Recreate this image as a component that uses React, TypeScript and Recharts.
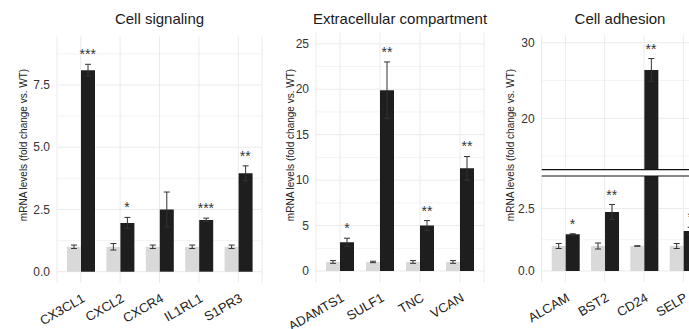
import { ComposedChart, Bar, Line, XAxis, YAxis, CartesianGrid, ErrorBar, LabelList, ReferenceLine } from "recharts";

// Cell signaling
const signalingGenes = ["CX3CL1", "CXCL2", "CXCR4", "IL1RL1", "S1PR3"];
const signalingWt = [1, 1, 1, 1, 1];
const signalingWtErr = [0.07, 0.13, 0.07, 0.07, 0.07];
const signalingKo = [8.09, 1.96, 2.5, 2.08, 3.95];
const signalingKoErr = [0.24, 0.22, 0.7, 0.07, 0.3];
const signalingSig = ["***", "*", "", "***", "**"];

// Extracellular compartment
const ecmGenes = ["ADAMTS1", "SULF1", "TNC", "VCAN"];
const ecmWt = [1, 1, 1, 1];
const ecmWtErr = [0.15, 0.08, 0.15, 0.15];
const ecmKo = [3.16, 19.9, 5.0, 11.3];
const ecmKoErr = [0.45, 3.1, 0.55, 1.3];
const ecmSig = ["*", "**", "**", "**"];

// Cell adhesion
const adhesionGenes = ["ALCAM", "BST2", "CD24", "SELP"];
const adhesionWt = [1, 1, 1, 1];
const adhesionWtErr = [0.1, 0.12, 0.01, 0.1];
const adhesionKo = [1.47, 2.36, 26.4, 1.6];
const adhesionKoErr = [0.02, 0.3, 1.5, 0.15];
const adhesionSig = ["*", "**", "**", "*"];

const H = 329;
const LIGHT = "#d9d9d9";
const DARK = "#1e1e1e";
const GRID = "#ebebeb";
const YW = 40;

type Row = { gene: string; wt: number; wtErr: number; ko: number; koErr: number; top: number; sig: string };

function buildRows(genes: string[], wt: number[], wtErr: number[], ko: number[], koErr: number[], sig: string[]): Row[] {
  return genes.map((g, i) => ({
    gene: g,
    wt: wt[i],
    wtErr: wtErr[i],
    ko: ko[i],
    koErr: koErr[i],
    top: ko[i] + koErr[i],
    sig: sig[i],
  }));
}

const signalingRows = buildRows(signalingGenes, signalingWt, signalingWtErr, signalingKo, signalingKoErr, signalingSig);
const ecmRows = buildRows(ecmGenes, ecmWt, ecmWtErr, ecmKo, ecmKoErr, ecmSig);
const adhesionRows = buildRows(adhesionGenes, adhesionWt, adhesionWtErr, adhesionKo, adhesionKoErr, adhesionSig);

function GeneTick(props: any) {
  const { x, y, payload } = props;
  const tx = x + 5;
  const ty = y + 18;
  return (
    <text x={tx} y={ty} transform={`rotate(-30 ${tx} ${ty})`} textAnchor="end" fontSize={13} fill="#222">
      {payload.value}
    </text>
  );
}

function sigLabel(minY: number, maxY: number) {
  return (props: any) => {
    const { x, y, value } = props;
    if (!value || y < minY || y > maxY) return null;
    return (
      <text x={x + 7} y={y - 5} textAnchor="middle" fontSize={14} fill="#333">
        {value}
      </text>
    );
  };
}

type PanelProps = {
  rows: Row[];
  domain: [number, number];
  ticks: number[];
  minors: number[];
  fmt: (v: number) => string;
  boxLeft: number;
  plotLeft: number;
  plotRight: number;
  plotTop: number;
  plotBottom: number;
  showX: boolean;
  breakAt?: number;
};

function Panel(p: PanelProps) {
  const width = p.plotRight - p.boxLeft + 10;
  const xH = H - p.plotBottom;
  const margin = {
    left: p.plotLeft - p.boxLeft - YW,
    right: width - (p.plotRight - p.boxLeft),
    top: p.plotTop,
    bottom: p.showX ? 0 : xH,
  };
  return (
    <div style={{ position: "absolute", left: p.boxLeft, top: 0 }}>
      <ComposedChart width={width} height={H} data={p.rows} margin={margin} barGap={0}>
        <CartesianGrid stroke={GRID} strokeWidth={0.6} vertical={false} horizontalValues={p.minors} />
        <CartesianGrid stroke={GRID} strokeWidth={1} horizontalValues={p.ticks} />
        <XAxis
          dataKey="gene"
          hide={!p.showX}
          height={p.showX ? xH : 0}
          tickLine={false}
          axisLine={false}
          tickSize={0}
          tickMargin={0}
          interval={0}
          padding={{ left: 4, right: 4 }}
          tick={<GeneTick />}
        />
        <YAxis
          type="number"
          width={YW}
          domain={p.domain}
          allowDataOverflow
          ticks={p.ticks}
          interval={0}
          tickFormatter={p.fmt}
          tickLine={false}
          axisLine={false}
          tickSize={0}
          tickMargin={7}
          tick={{ fontSize: 12, fill: "#333" }}
        />
        <Bar dataKey="wt" fill={LIGHT} barSize={14} isAnimationActive={false}>
          <ErrorBar dataKey="wtErr" width={3} stroke="#333" strokeWidth={1} direction="y" />
        </Bar>
        <Bar dataKey="ko" fill={DARK} barSize={14} isAnimationActive={false}>
          <ErrorBar dataKey="koErr" width={3} stroke="#333" strokeWidth={1} direction="y" />
        </Bar>
        <Line dataKey="top" stroke="none" dot={false} activeDot={false} isAnimationActive={false} legendType="none">
          <LabelList dataKey="sig" content={sigLabel(p.plotTop, p.plotBottom)} />
        </Line>
        {p.breakAt !== undefined && <ReferenceLine y={p.breakAt} stroke="#111" strokeWidth={1.2} />}
      </ComposedChart>
    </div>
  );
}

const yTitle = "mRNA levels (fold change vs. WT)";

export default function App() {
  const one = (v: number) => v.toFixed(1);
  const int = (v: number) => String(v);
  return (
    <div
      style={{
        position: "absolute",
        left: 0,
        top: 0,
        width: 689,
        height: H,
        overflow: "hidden",
        background: "#fff",
        fontFamily: "'Liberation Sans', Arial, Helvetica, sans-serif",
      }}
    >
      <Panel
        rows={signalingRows}
        domain={[-0.45, 9.45]}
        ticks={[0, 2.5, 5, 7.5]}
        minors={[1.25, 3.75, 6.25, 8.75]}
        fmt={one}
        boxLeft={0}
        plotLeft={57}
        plotRight={262}
        plotTop={36.4}
        plotBottom={282.9}
        showX
      />
      <Panel
        rows={ecmRows}
        domain={[-1.25, 26.25]}
        ticks={[0, 5, 10, 15, 20, 25]}
        minors={[2.5, 7.5, 12.5, 17.5, 22.5]}
        fmt={int}
        boxLeft={270}
        plotLeft={316}
        plotRight={484}
        plotTop={32.4}
        plotBottom={282.4}
        showX
      />
      <Panel
        rows={adhesionRows}
        domain={[13.2, 31]}
        ticks={[20, 30]}
        minors={[15, 25]}
        fmt={int}
        boxLeft={495}
        plotLeft={541.7}
        plotRight={707}
        plotTop={35.1}
        plotBottom={169.7}
        showX={false}
        breakAt={13.2}
      />
      <Panel
        rows={adhesionRows}
        domain={[-0.45, 3.8]}
        ticks={[0, 2.5]}
        minors={[1.25]}
        fmt={one}
        boxLeft={495}
        plotLeft={541.7}
        plotRight={707}
        plotTop={176}
        plotBottom={282.25}
        showX
        breakAt={3.8}
      />
      <svg width={689} height={H} style={{ position: "absolute", left: 0, top: 0, pointerEvents: "none" }}>
        <g fontSize={15} fill="#1a1a1a" textAnchor="middle">
          <text x={159.5} y={24}>Cell signaling</text>
          <text x={400} y={24}>Extracellular compartment</text>
          <text x={620} y={24}>Cell adhesion</text>
        </g>
        <g fontSize={10} fill="#222" textAnchor="middle">
          <text transform="translate(26.5 145) rotate(-90)">{yTitle}</text>
          <text transform="translate(294 145) rotate(-90)">{yTitle}</text>
          <text transform="translate(513.5 145) rotate(-90)">{yTitle}</text>
        </g>
      </svg>
    </div>
  );
}
